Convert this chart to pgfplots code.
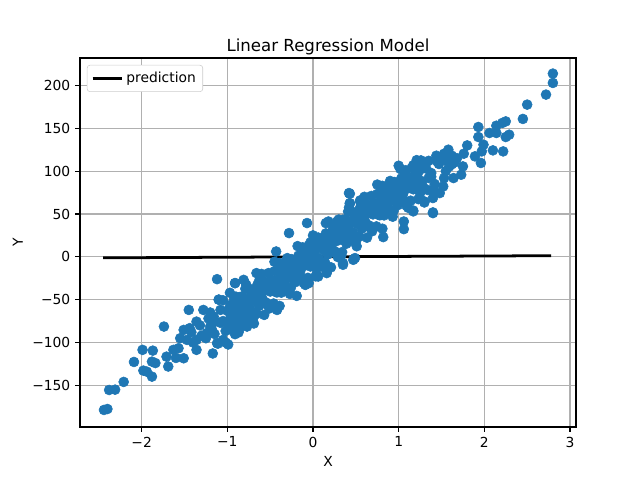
\documentclass[border=0pt]{standalone}
\usepackage{pgfplots}
\pgfplotsset{compat=1.18}
\usepackage{fontspec}
\setmainfont{DejaVu Sans}
\definecolor{c0}{HTML}{1F77B4}
\definecolor{gridc}{HTML}{B0B0B0}
\begin{document}
\begin{tikzpicture}
\path[use as bounding box] (0,0) rectangle (6.4in,4.8in);
\begin{axis}[
  at={(0.8in,0.53in)}, anchor=south west,
  scale only axis, width=4.96in, height=3.69in,
  xmin=-2.72, xmax=3.07, ymin=-198.6, ymax=232,
  xtick={-2,-1,0,1,2,3}, xticklabels={−2,−1,0,1,2,3},
  ytick={-150,-100,-50,0,50,100,150,200},
  yticklabels={−150,−100,−50,0,50,100,150,200},
  tick align=outside, tick pos=left,
  major tick length=3.5pt,
  every tick/.style={black, line width=0.8pt},
  axis line style={line width=0.8pt},
  grid=major, grid style={gridc, line width=0.8pt},
  ticklabel style={font=\fontsize{10}{12}\selectfont},
  /pgf/number format/assume math mode=true,
  title={Linear Regression Model},
  title style={font=\fontsize{12}{14}\selectfont, yshift=-7pt},
  xlabel={X}, ylabel={Y},
  label style={font=\fontsize{10}{12}\selectfont},
  legend style={at={(axis description cs:0,1)}, xshift=5pt, yshift=-5pt,
    anchor=north west, draw=black!20, rounded corners=2pt,
    font=\fontsize{10}{12}\selectfont, inner sep=3pt},
  legend cell align=left,
  legend image code/.code={\draw[line width=2pt] (0cm,0cm) -- (0.75cm,0cm);},
]
\addplot[only marks, mark=*, mark size=3.6pt, color=c0, forget plot] coordinates {
(-2.44,-178.7)(-2.40,-177.6)(-2.38,-155.4)(-2.31,-155)(-2.21,-146)(-2.09,-122.7)
(-1.99,-108.6)(-1.87,-109.5)(-1.98,-132.8)(-1.94,-134)(-1.88,-139.8)(-1.88,-122.3)
(-1.84,-124)(-1.74,-81.4)(-1.71,-116.5)(-1.69,-128)(-1.63,-108.6)(-1.57,-106.7)
(-1.51,-118.4)(-1.51,-85.3)(-1.44,-83.3)(-1.45,-62)(-1.36,-75.6)(-1.36,-108.6)
(-1.28,-62)(-1.47,-97)(-1.36,-97)(-1.12,-26.1)(-1.20,-81.4)(-1.12,-100.8)
(-1.05,-97)(-1.10,-50)(-0.97,-42)(-0.91,-30.7)(-0.89,-79.4)(-0.79,-79.4)
(-0.93,-67.8)(-0.81,-26.9)(-0.66,-19)(-0.74,-54)(-0.77,-69.7)(-1.16,-69.7)
(-1.24,-89)(-1.05,-75)(-1.15,-90)(-1.25,-95)(-1.02,-100)(-1.08,-62)(-1.30,-92)
(-1.40,-100)(-1.60,-118)(-1.55,-95)(-1.18,-85)(-1.22,-72)(-1.32,-80)(-1.42,-88)
(0.43,73.6)(0.43,62.7)(0.55,64.6)(-0.07,39.4)(0.18,41.2)(-0.28,27.7)(-0.43,6.2)
(-0.19,-45.6)(-0.42,-62)(-0.77,-81.4)(-0.91,-80.6)(-0.91,-30.7)(-1.10,-50)
(0.06,-23)(-0.05,-30.7)(0.47,-3.5)(0.35,-7.4)(0.16,-17.2)
(1.76,120.3)(1.53,120.3)(1.45,111.3)(1.00,106.3)(1.21,108.3)(1.31,106.3)
(1.40,51.8)(1.06,32.3)(1.17,54)(1.30,64.6)(0.81,82)(0.42,74.4)(0.43,62)(0.55,65.8)
(0.82,23)(0.49,-1.5)(0.35,-9.3)(0.04,-21)(0.16,-19)
(2.80,213.8)(2.80,202.9)(2.72,189.3)(2.50,177.6)(2.45,160.9)(2.25,158)(2.21,156.2)
(2.14,153)(1.93,151.5)(1.93,139.8)(2.06,144.5)(2.14,144.5)(2.25,139.8)(2.29,142.5)
(2.22,123)(2.10,124.2)(1.99,130.8)(1.97,123)(1.96,109.5)(1.89,117.2)(1.60,117.2)
(1.46,111.3)(1.75,105.5)(1.73,95.8)(1.64,91.9)(1.29,106.3)(1.38,97.8)(1.52,82.1)
(1.48,74.4)(1.40,68.6)(1.30,63.4)(1.40,51.0)(1.17,53)(1.06,41.2)(1.17,90)(1.25,74.4)
(1.35,92)(1.42,85)(1.55,100)(1.62,108)(1.68,115)(1.34,78)(1.58,125)(1.80,130)
(-1.00,-63)(-0.98,-81.5)(-0.96,-69)(-0.94,-85.5)(-0.92,-49)(-0.90,-70.5)(-0.88,-59)
(-0.86,-84.5)(-0.84,-63)(-0.82,-46.5)(-0.80,-71)(-0.78,-53.5)(-0.76,-63)(-0.74,-37.5)
(-0.72,-67)(-0.70,-43.5)(-0.68,-52)(-0.66,-66.5)(-0.64,-37)(-0.62,-50.5)(-0.60,-33)
(-0.58,-51.5)(-0.56,-39)(-0.54,-55.5)(-0.52,-19)(-0.50,-40.5)(-0.48,-29)(-0.46,-54.5)
(-0.44,-33)(-0.42,-16.5)(-0.40,-41)(-0.38,-23.5)(-0.36,-33)(-0.34,-7.5)(-0.32,-37)
(-0.30,-13.5)(-0.28,-22)(-0.26,-36.5)(-0.24,-7)(-0.22,-20.5)(-0.20,-3)(-0.18,-21.5)
(-0.16,-9)(-0.14,-25.5)(-0.12,11)(-0.10,-10.5)(-0.08,1)(-0.06,-24.5)(-0.04,-3)
(-0.02,13.5)(0.00,-11)(0.02,6.5)(0.04,-3)(0.06,22.5)(0.08,-7)(0.10,16.5)(0.12,8)
(0.14,-6.5)(0.16,23)(0.18,9.5)(0.20,27)(0.22,8.5)(0.24,21)(0.26,4.5)(0.28,41)
(0.30,19.5)(0.32,31)(0.34,5.5)(0.36,27)(0.38,43.5)(0.40,19)(0.42,36.5)(0.44,27)
(0.46,52.5)(0.48,23)(0.50,46.5)(0.52,38)(0.54,23.5)(0.56,53)(0.58,39.5)(0.60,57)
(0.62,38.5)(0.64,51)(0.66,34.5)(0.68,71)(0.70,49.5)(0.72,61)(0.74,35.5)(0.76,57)
(0.78,73.5)(0.80,49)(0.82,66.5)(0.84,57)(0.86,82.5)(0.88,53)(0.90,76.5)(0.92,68)
(0.94,53.5)(0.96,83)(0.98,69.5)(1.00,87)(1.02,68.5)(1.04,81)(1.06,64.5)(1.08,101)
(1.10,79.5)(1.12,91)(1.14,65.5)(1.16,87)(1.18,103.5)(1.20,79)(1.22,96.5)(1.24,87)
(1.26,112.5)(1.28,83)(1.30,106.5)
(-0.99,-79.3)(-0.97,-58.8)(-0.95,-83.3)(-0.93,-63.8)(-0.91,-90.3)(-0.89,-56.8)
(-0.87,-67.3)(-0.85,-46.8)(-0.83,-71.3)(-0.81,-56.8)(-0.79,-37.3)(-0.77,-71.8)
(-0.75,-48.3)(-0.73,-61.8)(-0.71,-40.3)(-0.69,-69.8)(-0.67,-48.3)(-0.65,-32.8)
(-0.63,-57.3)(-0.61,-44.8)(-0.59,-49.3)(-0.57,-28.8)(-0.55,-53.3)(-0.53,-33.8)
(-0.51,-60.3)(-0.49,-26.8)(-0.47,-37.3)(-0.45,-16.8)(-0.43,-41.3)(-0.41,-26.8)
(-0.39,-7.3)(-0.37,-41.8)(-0.35,-18.3)(-0.33,-31.8)(-0.31,-10.3)(-0.29,-39.8)
(-0.27,-18.3)(-0.25,-2.8)(-0.23,-27.3)(-0.21,-14.8)(-0.19,-19.3)(-0.17,1.3)
(-0.15,-23.3)(-0.13,-3.8)(-0.11,-30.3)(-0.09,3.3)(-0.07,-7.3)(-0.05,13.3)
(-0.03,-11.3)(-0.01,3.3)(0.01,22.8)(0.03,-11.8)(0.05,11.8)(0.07,-1.8)(0.09,19.8)
(0.11,-9.8)(0.13,11.8)(0.15,27.3)(0.17,2.8)(0.19,15.3)(0.21,10.8)(0.23,31.3)
(0.25,6.8)(0.27,26.3)(0.29,-0.3)(0.31,33.3)(0.33,22.8)(0.35,43.3)(0.37,18.8)
(0.39,33.3)(0.41,52.8)(0.43,18.3)(0.45,41.8)(0.47,28.3)(0.49,49.8)(0.51,20.3)
(0.53,41.8)(0.55,57.3)(0.57,32.8)(0.59,45.3)(0.61,40.8)(0.63,61.3)(0.65,36.8)
(0.67,56.3)(0.69,29.8)(0.71,63.3)(0.73,52.8)(0.75,73.3)(0.77,48.8)(0.79,63.3)
(0.81,82.8)(0.83,48.3)(0.85,71.8)(0.87,58.3)(0.89,79.8)(0.91,50.3)(0.93,71.8)
(0.95,87.3)(0.97,62.8)(0.99,75.3)(1.01,70.8)(1.03,91.3)(1.05,66.8)(1.07,86.3)
(1.09,59.8)(1.11,93.3)(1.13,82.8)(1.15,103.3)(1.17,78.8)(1.19,93.3)(1.21,112.8)
(1.23,78.3)(1.25,101.8)(1.27,88.3)(1.29,109.8)
(-1.20,-65)(-1.17,-112.8)(-1.14,-75.5)(-1.11,-101.3)(-1.08,-77)(-1.05,-50.8)
(-1.02,-86.5)(-0.99,-102.3)(-0.96,-56)(-0.93,-71.8)(-0.90,-46.5)(-0.87,-88.3)
(-0.84,-55)(-0.81,-74.8)(-0.78,-32.5)(-0.75,-62.3)(-0.72,-41)(-0.69,-77.8)
(-0.66,-49.5)(-0.63,-28.3)(-0.60,-20)(-0.57,-67.8)(-0.54,-30.5)(-0.51,-56.3)
(-0.48,-32)(-0.45,-5.8)(-0.42,-41.5)(-0.39,-57.3)(-0.36,-11)(-0.33,-26.8)
(-0.30,-1.5)(-0.27,-43.3)(-0.24,-10)(-0.21,-29.8)(-0.18,12.5)(-0.15,-17.3)
(-0.12,4)(-0.09,-32.8)(-0.06,-4.5)(-0.03,16.8)(0.00,25)(0.03,-22.8)(0.06,14.5)
(0.09,-11.3)(0.12,13)(0.15,39.3)(0.18,3.5)(0.21,-12.3)(0.24,34)(0.27,18.3)
(0.30,43.5)(0.33,1.8)(0.36,35)(0.39,15.3)(0.42,57.5)(0.45,27.8)(0.48,49)
(0.51,12.3)(0.54,40.5)(0.57,61.8)(0.60,70)(0.63,22.3)(0.66,59.5)(0.69,33.8)
(0.72,58)(0.75,84.3)(0.78,48.5)(0.81,32.8)(0.84,79)(0.87,63.3)(0.90,88.5)
(0.93,46.8)(0.96,80)(0.99,60.3)(1.02,102.5)(1.05,72.8)(1.08,94)(1.11,57.3)
(1.14,85.5)(1.17,106.8)(1.20,108)(1.23,67.3)(1.26,104.5)(1.29,78.8)(1.32,103)
(1.35,112)(1.38,93.5)(1.41,77.8)(1.44,118)(1.47,108.3)(1.50,115)(1.53,91.8)
(1.56,112)(1.59,105.3)(1.62,118)(1.65,110)
};
\addplot[black, line width=2pt] coordinates {(-2.45,-1.2)(2.78,1.3)};
\addlegendentry{prediction}
\end{axis}
\end{tikzpicture}
\end{document}
